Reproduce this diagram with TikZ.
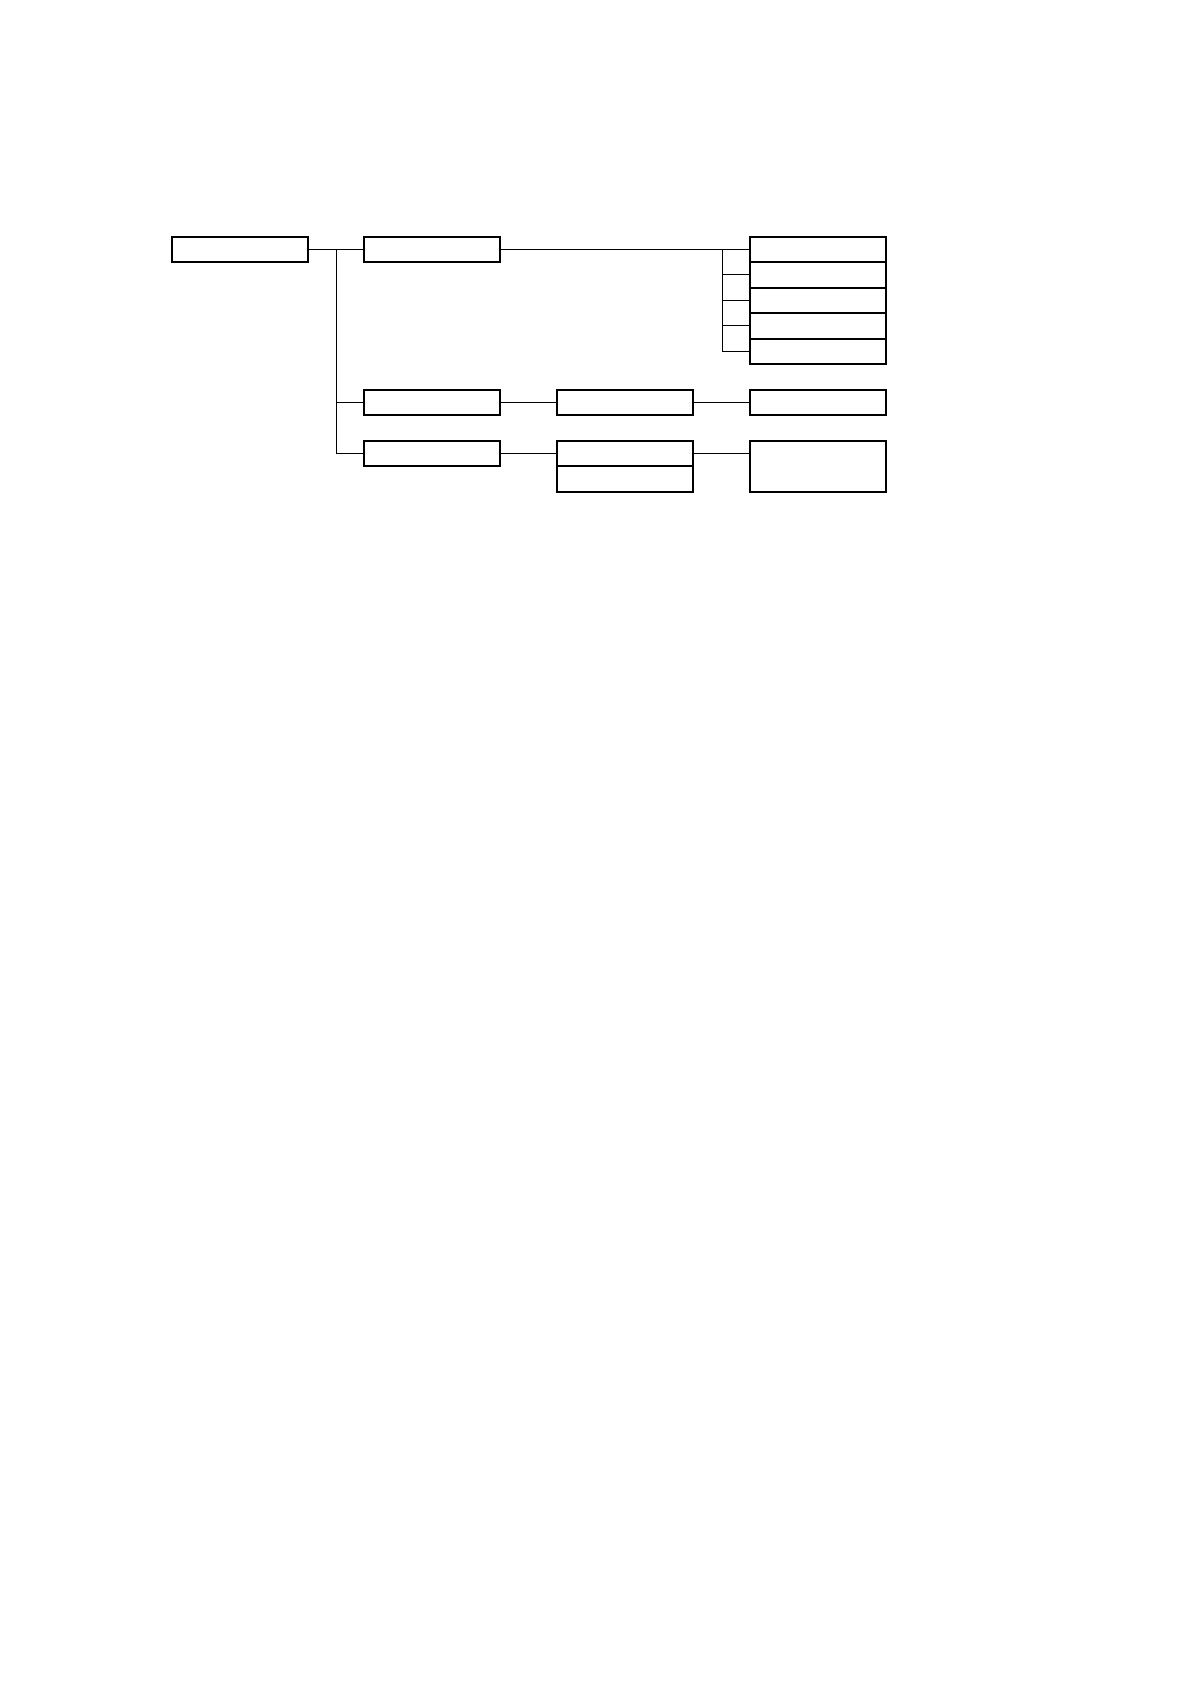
\documentclass[tikz,border=0pt]{standalone}
\begin{document}
\begin{tikzpicture}[x=0.5pt,y=-0.5pt,line width=0.5pt]
\useasboundingbox (0,0) rectangle (1190,1684);
\tikzset{kasten/.style={draw,line width=0.9pt,rectangle,inner sep=0pt,
	minimum width=68pt,minimum height=12.75pt}}
\def\kasten#1#2#3{
	\node[kasten] (#1) at (#2,#3) {};
}
\kasten{wurzel}{240}{249.5}
\kasten{a1}{432}{249.5}
\kasten{a2}{432}{402.5}
\kasten{a3}{432}{453.5}
\kasten{b2}{625}{402.5}
\kasten{b3}{625}{453.5}
\kasten{b4}{625}{479}
\kasten{c1}{818}{249.5}
\kasten{c2}{818}{275}
\kasten{c3}{818}{300.5}
\kasten{c4}{818}{326}
\kasten{c5}{818}{351.5}
\kasten{d2}{818}{402.5}
\node[kasten,minimum height=25.5pt] (d3) at (818,466.5) {};
\coordinate (bus) at (336,249.5);
\coordinate (bus2) at (722,249.5);
\draw (wurzel.east) -- (a1.west);
\draw (bus) |- (a2.west);
\draw (bus) |- (a3.west);
\draw (a1.east) -- (c1.west);
\draw (bus2) |- (c5.west);
\foreach \k in {c2,c3,c4}
	\draw (bus2 |- \k.west) -- (\k.west);
\draw (a2.east) -- (b2.west);
\draw (b2.east) -- (d2.west);
\draw (a3.east) -- (b3.west);
\draw (b3.east) -- (b3.east -| d3.west);
\end{tikzpicture}
\end{document}
